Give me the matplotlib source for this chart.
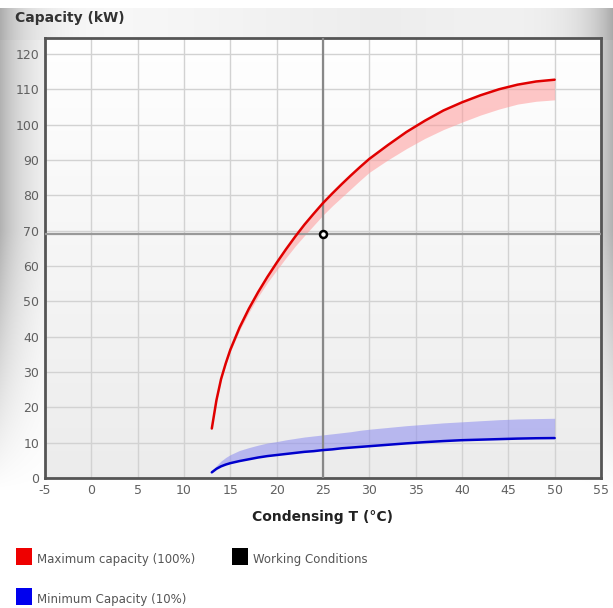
import numpy as np
import matplotlib
matplotlib.use("Agg")
import matplotlib.pyplot as plt
from matplotlib.patches import Rectangle

plt.rcParams["axes.unicode_minus"] = False

# ---- data ----
cond_t = [13, 13.5, 14, 14.5, 15, 16, 17, 18, 19, 20, 21, 22, 23, 24, 25, 26, 27, 28, 29, 30,
          32, 34, 36, 38, 40, 42, 44, 46, 48, 50]
max_cap = [14.0, 22.0, 28.0, 32.4, 36.3, 42.6, 47.9, 52.6, 56.9, 60.9, 64.7, 68.3, 71.7, 74.8, 77.8,
           80.5, 83.1, 85.6, 88.0, 90.3, 94.2, 97.9, 101.1, 104.0, 106.3, 108.3, 110.0, 111.3, 112.2, 112.7]
max_cap_low = [14.0, 21.5, 27.8, 32.0, 35.8, 41.8, 46.8, 51.3, 55.3, 58.8, 62.3, 65.6, 68.6, 71.5, 74.4,
               77.0, 79.4, 81.8, 84.2, 86.5, 90.0, 93.2, 96.1, 98.6, 100.7, 102.7, 104.4, 105.8, 106.6, 107.0]
min_cap = [1.6, 2.6, 3.3, 3.8, 4.2, 4.8, 5.3, 5.8, 6.2, 6.5, 6.8, 7.1, 7.4, 7.6, 7.9,
           8.1, 8.4, 8.6, 8.8, 9.0, 9.4, 9.8, 10.15, 10.45, 10.7, 10.85, 11.0, 11.15, 11.25, 11.3]
min_cap_high = [1.8, 3.5, 4.8, 5.8, 6.6, 7.8, 8.6, 9.3, 9.9, 10.3, 10.8, 11.2, 11.6, 11.9, 12.2,
                12.5, 12.8, 13.1, 13.5, 13.8, 14.3, 14.8, 15.2, 15.6, 15.9, 16.2, 16.5, 16.7, 16.8, 16.9]
work_t = 25
work_cap = 69
x_ticks = [-5, 0, 5, 10, 15, 20, 25, 30, 35, 40, 45, 50, 55]
y_ticks = [0, 10, 20, 30, 40, 50, 60, 70, 80, 90, 100, 110, 120]
legend_labels = ["Maximum capacity (100%)", "Working Conditions", "Minimum Capacity (10%)"]
legend_colors = ["#ee0000", "#000000", "#0000ee"]

W, H = 613, 608
fig = plt.figure(figsize=(W / 100, H / 100), dpi=100)
fig.patch.set_facecolor("white")

# background gradient (figure level)
bg = fig.add_axes([0, 0, 1, 1], zorder=-10)
bg.set_axis_off()
xs = np.arange(W)
ys = np.arange(H)
X, Y = np.meshgrid(xs, ys)  # Y = 0 at top row
edge = np.exp(-np.minimum(X, W - 1 - X) / 28.0)
vf = np.clip(1 - (Y - 230) / 260.0, 0, 1)
vf = np.where(Y < 230, 1.0, vf)
vf = np.where(Y < 8, 0.0, vf)
topband = np.where((Y >= 8) & (Y < 40), 1.0, 0.0) * np.clip(1 - np.abs(X - 380) / 420.0, 0.3, 1)
shade = 1 - 0.30 * edge * vf - 0.07 * topband
img = np.dstack([shade, shade, shade])
bg.imshow(img, extent=[0, 1, 0, 1], aspect="auto", origin="upper", interpolation="bilinear")
bg.set_xlim(0, 1)
bg.set_ylim(0, 1)

ax = fig.add_axes([45 / W, 1 - 478 / H, (601 - 45) / W, (478 - 38) / H])

# plot area gradient: white top, light gray bottom
grad = np.linspace(1.0, 0.925, 200).reshape(-1, 1)
ax.imshow(np.dstack([grad, grad, grad]), extent=[-5, 55, 0, 124.5], origin="upper",
          aspect="auto", zorder=0)
ax.set_xlim(-5, 55)
ax.set_ylim(0, 124.5)

ax.set_xticks(x_ticks)
ax.set_yticks(y_ticks)
ax.grid(True, color="#d2d2d2", linewidth=1, zorder=1)
ax.set_axisbelow(True)
ax.tick_params(length=0, labelsize=9, colors="#606060", pad=4)
for s in ax.spines.values():
    s.set_color("#555555")
    s.set_linewidth(2)

# bands
ax.fill_between(cond_t, max_cap_low, max_cap, color="#ff9a9a", alpha=0.55, linewidth=0, zorder=2)
ax.fill_between(cond_t, min_cap, min_cap_high, color="#8c8cf0", alpha=0.55, linewidth=0, zorder=2)

# crosshair
ax.axvline(work_t, color="#888888", linewidth=1.6, zorder=3)
ax.axhline(work_cap, color="#999999", linewidth=1.6, zorder=3)

# lines
ax.plot(cond_t, max_cap, color="#e00000", linewidth=1.8, zorder=4, solid_capstyle="round")
ax.plot(cond_t, min_cap, color="#0000cc", linewidth=1.8, zorder=4, solid_capstyle="round")

ax.plot([work_t], [work_cap], marker="o", markersize=5, markerfacecolor="white",
        markeredgecolor="black", markeredgewidth=1.8, zorder=5)

ax.set_xlabel("Condensing T (°C)", fontsize=10, fontweight="bold", color="#222222", labelpad=10)
fig.text(15 / W, 1 - 18 / H, "Capacity (kW)", fontsize=10, fontweight="bold", color="#333333",
         ha="left", va="center")

# legend
legend_pos = [(16, 548), (232, 548), (16, 588)]
for (px, py), lab, col in zip(legend_pos, legend_labels, legend_colors):
    fig.patches.append(Rectangle((px / W, 1 - (py + 17) / H), 16 / W, 17 / H,
                                 transform=fig.transFigure, facecolor=col, edgecolor="none"))
    fig.text((px + 21) / W, 1 - (py + 12) / H, lab, fontsize=8.5, color="#555555",
             ha="left", va="center")

fig.savefig("out.png", dpi=100)
